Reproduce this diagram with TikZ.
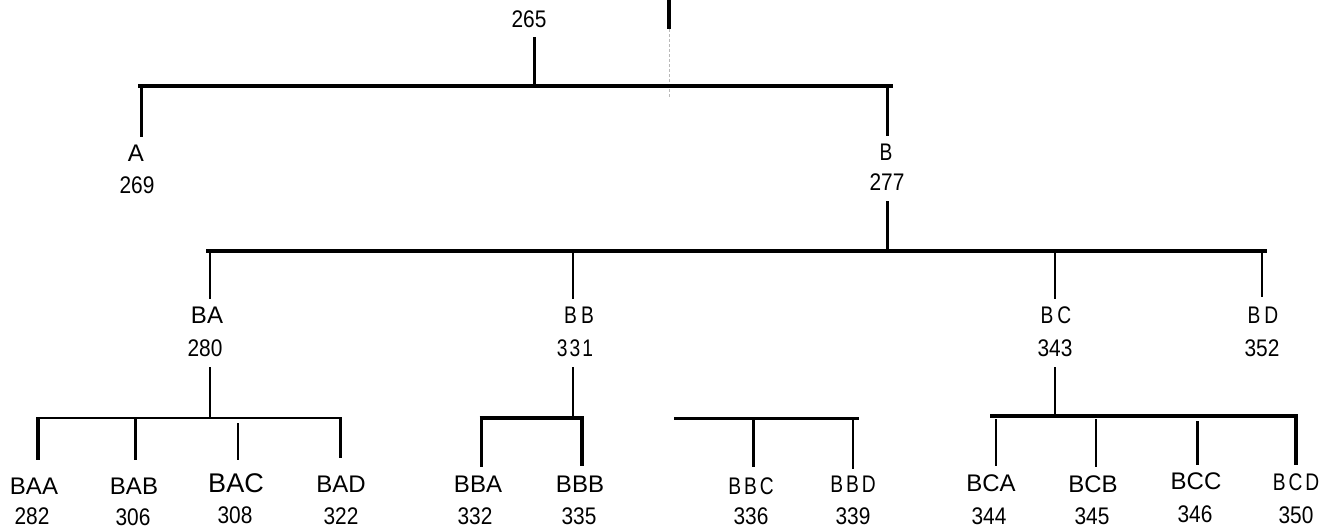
\documentclass[tikz,border=0pt]{standalone}
\usepackage{fontspec}
\setmainfont{Liberation Sans}
\newfontfamily\cndfont{Liberation Sans}[FakeStretch=0.8]
\newfontfamily\numfont{Liberation Sans}[FakeStretch=0.87]
\begin{document}
\begin{tikzpicture}[x=1pt,y=-1pt,
  lbl/.style={inner sep=0pt, font=\fontsize{24}{28}\selectfont},
  big/.style={inner sep=0pt, font=\fontsize{27}{30}\selectfont},
  num/.style={inner sep=0pt, font=\fontsize{24}{28}\selectfont\numfont},
  cnd/.style={inner sep=0pt, font=\fontsize{24}{28}\selectfont\cndfont},
  bar/.style={line width=4pt},
  vl/.style={line width=3pt},
  thinvl/.style={line width=2.5pt},
  faint/.style={gray!55, line width=0.7pt, dash pattern=on 3pt off 2pt}]
\useasboundingbox (0,0) rectangle (1324,528);

% ---- root ----
\coordinate (root) at (669,0);
\coordinate (rootEnd) at (669,29);
\coordinate (rootFaint) at (669,98);
\draw[line width=3.5pt] (root) -- (rootEnd);
\draw[faint] (rootEnd) -- (rootFaint);
\node[num] (n265) at (529,19) {265};
\coordinate (t265) at (534,37);
\coordinate (b265) at (534,86);
\draw[vl] (t265) -- (b265);

% ---- level 1 ----
\coordinate (bar1L) at (138,86);
\coordinate (bar1R) at (893,86);
\draw[bar] (bar1L) -- (bar1R);
\coordinate (Atop) at (141,86);  \coordinate (Abot) at (141,137);
\coordinate (Btop) at (887,86);  \coordinate (Bbot) at (887,136);
\draw[vl] (Atop) -- (Abot);
\draw[vl] (Btop) -- (Bbot);
\node[lbl] (A) at (136,153) {A};
\node[num] (nA) at (137,185) {269};
\node[cnd] (B) at (886,152) {B};
\node[num] (nB) at (887,182) {277};
\coordinate (B2top) at (887,201); \coordinate (B2bot) at (887,251);
\draw[vl] (B2top) -- (B2bot);

% ---- level 2 ----
\coordinate (bar2L) at (206,251);
\coordinate (bar2R) at (1267,251);
\draw[bar] (bar2L) -- (bar2R);
\coordinate (BAt) at (210,251);  \coordinate (BAb) at (210,299);
\coordinate (BBt) at (573,251);  \coordinate (BBb) at (573,299);
\coordinate (BCt) at (1055,251); \coordinate (BCb) at (1055,299);
\coordinate (BDt) at (1262,251); \coordinate (BDb) at (1262,297);
\draw[thinvl] (BAt) -- (BAb);
\draw[thinvl] (BBt) -- (BBb);
\draw[thinvl] (BCt) -- (BCb);
\draw[thinvl] (BDt) -- (BDb);
\node[lbl] (BA) at (207,315) {BA};
\node[num] (nBA) at (205,348) {280};
\node[cnd] (BB) at (579,315) {B\kern4pt B};
\node[cnd] (nBB) at (575,348) {3\kern2pt 3\kern2pt 1};
\node[cnd] (BC) at (1056,315) {B\kern4pt C};
\node[num] (nBC) at (1055,348) {343};
\node[cnd] (BD) at (1263,315) {B\kern4pt D};
\node[num] (nBD) at (1262,348) {352};
\coordinate (BA2t) at (210,367);  \coordinate (BA2b) at (210,418);
\coordinate (BB2t) at (573,367);  \coordinate (BB2b) at (573,418);
\coordinate (BC2t) at (1055,367); \coordinate (BC2b) at (1055,416);
\draw[thinvl] (BA2t) -- (BA2b);
\draw[thinvl] (BB2t) -- (BB2b);
\draw[thinvl] (BC2t) -- (BC2b);

% ---- level 3: BA group ----
\coordinate (barBAL) at (36,418);  \coordinate (barBAR) at (342,418);
\draw[line width=2.2pt] (barBAL) -- (barBAR);
\coordinate (BAAt) at (38,418);  \coordinate (BAAb) at (38,460);
\coordinate (BABt) at (135,419); \coordinate (BABb) at (135,460);
\coordinate (BACt) at (238,423); \coordinate (BACb) at (238,460);
\coordinate (BADt) at (340,419); \coordinate (BADb) at (340,458);
\draw[line width=3.5pt] (BAAt) -- (BAAb);
\draw[vl] (BABt) -- (BABb);
\draw[thinvl] (BACt) -- (BACb);
\draw[vl] (BADt) -- (BADb);
\node[lbl] (BAA) at (34,486) {BAA};
\node[num] (nBAA) at (32,516) {282};
\node[lbl] (BAB) at (134,486) {BAB};
\node[num] (nBAB) at (133,517) {306};
\node[big] (BAC) at (236,483) {BAC};
\node[num] (nBAC) at (235,515) {308};
\node[lbl] (BAD) at (341,484) {BAD};
\node[num] (nBAD) at (341,516) {322};

% ---- level 3: BB group ----
\coordinate (barBBL) at (479.5,418); \coordinate (barBBR) at (584,418);
\draw[line width=3.5pt] (barBBL) -- (barBBR);
\coordinate (BBAt) at (481,418); \coordinate (BBAb) at (481,467);
\coordinate (BBBt) at (582,418); \coordinate (BBBb) at (582,466);
\draw[vl] (BBAt) -- (BBAb);
\draw[bar] (BBBt) -- (BBBb);
\node[lbl] (BBA) at (478,484) {BBA};
\node[num] (nBBA) at (475,516) {332};
\node[lbl] (BBB) at (580,484) {BBB};
\node[num] (nBBB) at (579,516) {335};

% ---- level 3: BBC/BBD group ----
\coordinate (barBB2L) at (674,418); \coordinate (barBB2R) at (859,418);
\draw[vl] (barBB2L) -- (barBB2R);
\coordinate (BBCt) at (753,419); \coordinate (BBCb) at (753,467);
\coordinate (BBDt) at (853,419); \coordinate (BBDb) at (853,469);
\draw[vl] (BBCt) -- (BBCb);
\draw[thinvl] (BBDt) -- (BBDb);
\node[cnd] (BBC) at (751,486) {B\kern3pt B\kern3pt C};
\node[num] (nBBC) at (751,516) {336};
\node[cnd] (BBD) at (853,484) {B\kern3pt B\kern3pt D};
\node[num] (nBBD) at (853,516) {339};

% ---- level 3: BC group ----
\coordinate (barBCL) at (990,416); \coordinate (barBCR) at (1298,416);
\draw[line width=3.5pt] (barBCL) -- (barBCR);
\coordinate (BCAt) at (996,419);  \coordinate (BCAb) at (996,466);
\coordinate (BCBt) at (1096,419); \coordinate (BCBb) at (1096,467);
\coordinate (BCCt) at (1197,421); \coordinate (BCCb) at (1197,465);
\coordinate (BCDt) at (1296,416); \coordinate (BCDb) at (1296,465);
\draw[thinvl] (BCAt) -- (BCAb);
\draw[thinvl] (BCBt) -- (BCBb);
\draw[vl] (BCCt) -- (BCCb);
\draw[bar] (BCDt) -- (BCDb);
\node[lbl] (BCA) at (991,483) {BCA};
\node[num] (nBCA) at (989,516) {344};
\node[lbl] (BCB) at (1093,484) {BCB};
\node[num] (nBCB) at (1092,516) {345};
\node[lbl] (BCC) at (1196,481) {BCC};
\node[num] (nBCC) at (1195,514) {346};
\node[cnd] (BCD) at (1296,482) {B\kern3pt C\kern3pt D};
\node[num] (nBCD) at (1296,515) {350};
\end{tikzpicture}
\end{document}
